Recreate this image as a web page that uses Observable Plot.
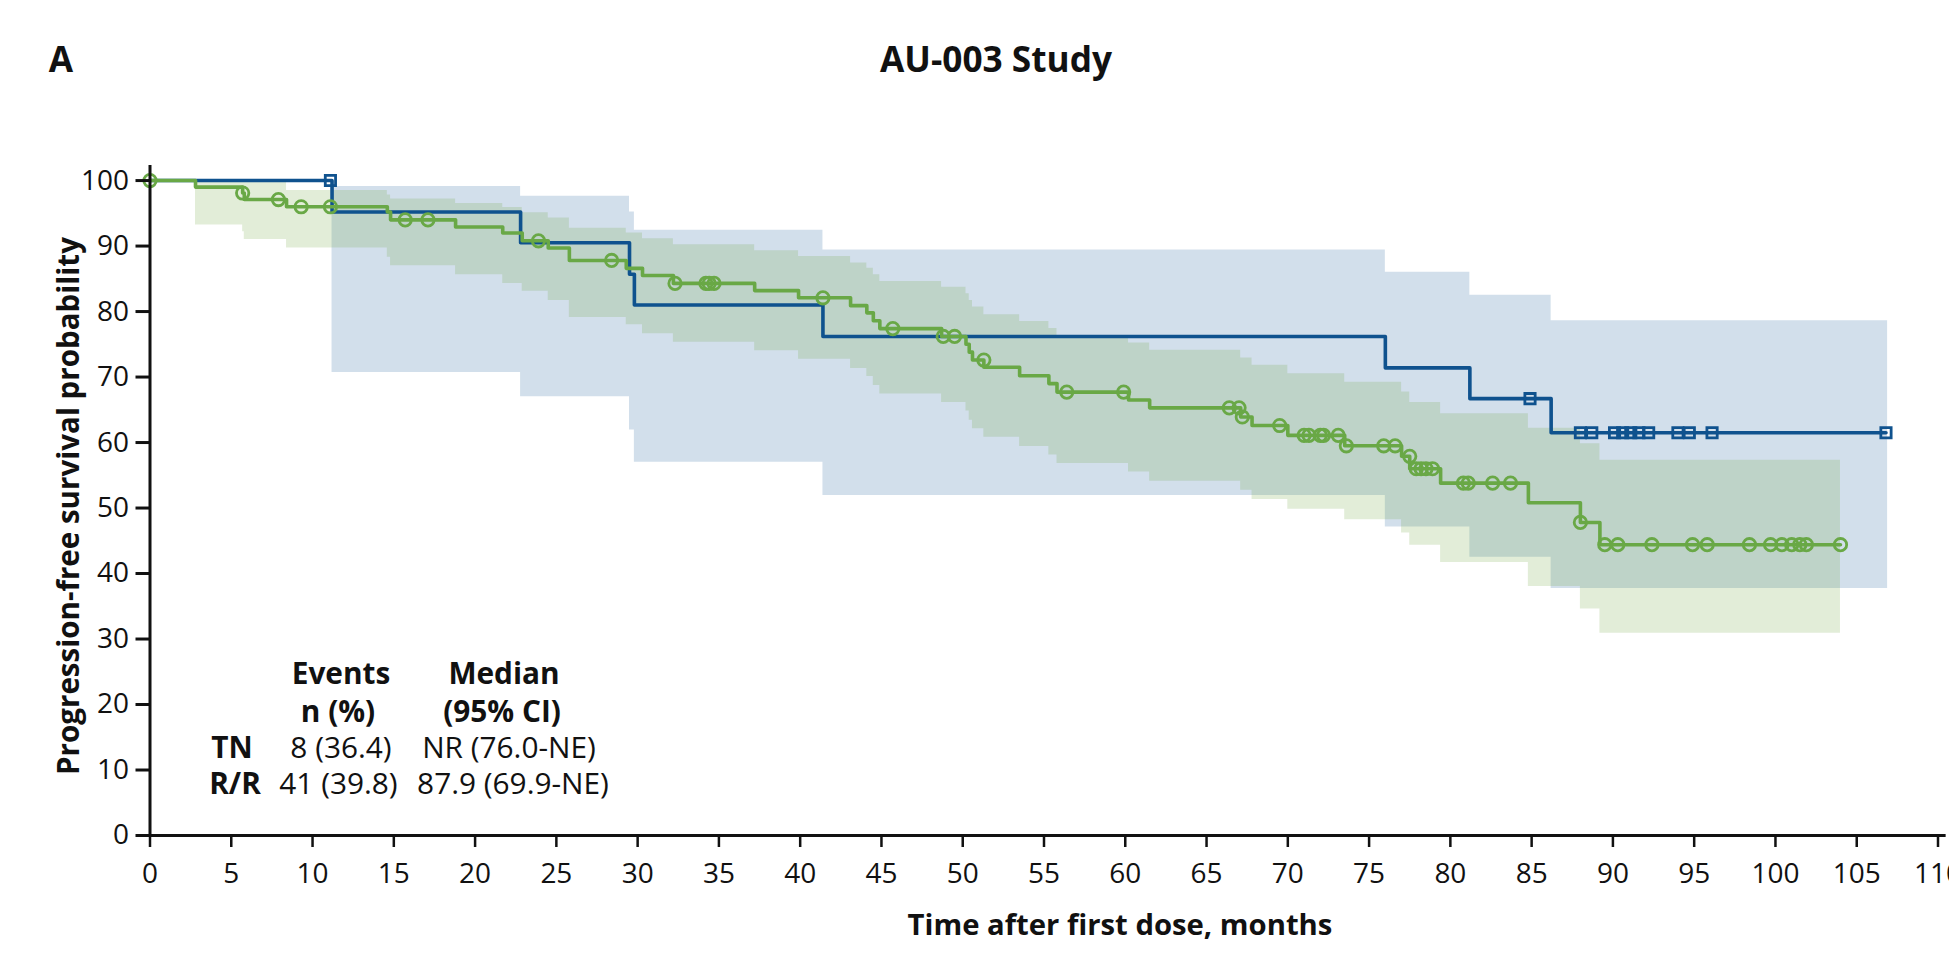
<!DOCTYPE html>
<html><head><meta charset="utf-8">
<script src="https://cdn.jsdelivr.net/npm/d3@7"></script>
<script src="https://cdn.jsdelivr.net/npm/@observablehq/plot@0.6"></script>
<style>
body{margin:0;background:#fff;font-family:"Open Sans",Lato,sans-serif;color:#111;}
#wrap{position:relative;width:1949px;height:973px;overflow:hidden;background:#fff;}
#wrap svg{position:absolute;left:0;top:0;}
.t{position:absolute;white-space:nowrap;transform:translate(-50%,-50%);line-height:0.9;}
.b{font-weight:bold;}
</style></head><body><div id="wrap"></div>
<script>
// ---- data ----
const xTicks = [0,5,10,15,20,25,30,35,40,45,50,55,60,65,70,75,80,85,90,95,100,105,110];
const yTicks = [0,10,20,30,40,50,60,70,80,90,100];

// TN (blue) Kaplan-Meier steps
const tnTime = [0, 11.2, 22.8, 29.5, 29.8, 41.4, 76.0, 81.2, 86.2, 106.8];
const tnSurv = [100, 95.2, 90.5, 85.7, 81.0, 76.2, 71.4, 66.7, 61.5, 61.5];
// TN censor marks
const tnCensTime = [11.1, 84.9, 88.0, 88.7, 90.1, 90.6, 91.1, 91.6, 92.2, 94.0, 94.7, 96.1, 106.8];
const tnCensSurv = [100, 66.7, 61.5, 61.5, 61.5, 61.5, 61.5, 61.5, 61.5, 61.5, 61.5, 61.5, 61.5];
// TN 95% CI band
const tnCiTime = [11.2, 22.8, 29.5, 29.8, 41.4, 76.0, 81.2, 86.2, 106.9];
const tnCiLow  = [70.7, 67.0, 61.9, 57.0, 51.9, 47.1, 42.5, 37.7, 37.7];
const tnCiHigh = [99.1, 97.6, 95.2, 92.4, 89.4, 86.0, 82.5, 78.6, 78.6];

// R/R (green) Kaplan-Meier steps
const rrTime = [0, 2.8, 5.7, 5.8, 8.4, 14.6, 14.8, 18.8, 21.7, 22.9, 24.5, 25.8, 29.3, 30.3, 32.2, 37.2, 39.9, 43.1, 44.1, 44.5, 44.9, 48.7, 50.2, 50.4, 50.6, 51.3, 53.5, 55.3, 55.8, 60.2, 61.5, 67.1, 67.8, 70.0, 73.5, 77.0, 77.5, 79.4, 84.8, 88.0, 89.2, 104.0];
const rrSurv = [100, 99.0, 98.1, 97.1, 96.0, 95.2, 94.0, 92.9, 92.0, 90.8, 89.7, 87.8, 86.6, 85.5, 84.3, 83.2, 82.1, 80.9, 79.8, 78.6, 77.4, 76.2, 75.0, 73.8, 72.6, 71.5, 70.2, 69.0, 67.7, 66.5, 65.3, 63.9, 62.6, 61.1, 59.5, 57.9, 56.0, 53.8, 50.8, 47.8, 44.4, 44.4];
// R/R censor marks
const rrCensTime = [0, 5.7, 7.9, 9.3, 11.1, 15.7, 17.1, 23.9, 28.4, 32.3, 34.2, 34.4, 34.7, 41.4, 45.7, 48.8, 49.5, 51.3, 56.4, 59.9, 66.4, 67.0, 67.2, 69.5, 71.0, 71.3, 72.0, 72.2, 73.1, 73.6, 75.9, 76.6, 77.5, 77.9, 78.2, 78.5, 78.9, 80.8, 81.1, 82.6, 83.7, 88.0, 89.5, 90.3, 92.4, 94.9, 95.8, 98.4, 99.7, 100.4, 101.0, 101.5, 101.9, 104.0];
const rrCensSurv = [100, 98.1, 97.1, 96.0, 96.0, 94.0, 94.0, 90.8, 87.8, 84.3, 84.3, 84.3, 84.3, 82.1, 77.4, 76.2, 76.2, 72.6, 67.7, 67.7, 65.3, 65.3, 63.9, 62.6, 61.1, 61.1, 61.1, 61.1, 61.1, 59.5, 59.5, 59.5, 57.9, 56.0, 56.0, 56.0, 56.0, 53.8, 53.8, 53.8, 53.8, 47.8, 44.4, 44.4, 44.4, 44.4, 44.4, 44.4, 44.4, 44.4, 44.4, 44.4, 44.4, 44.4];
// R/R 95% CI band
const rrCiTime = [2.8, 5.7, 5.8, 8.4, 14.6, 14.8, 18.8, 21.7, 22.9, 24.5, 25.8, 29.3, 30.3, 32.2, 37.2, 39.9, 43.1, 44.1, 44.5, 44.9, 48.7, 50.2, 50.4, 50.6, 51.3, 53.5, 55.3, 55.8, 60.2, 61.5, 67.1, 67.8, 70.0, 73.5, 77.0, 77.5, 79.4, 84.8, 88.0, 89.2, 104.0];
const rrCiLow  = [93.2, 92.2, 91.0, 89.7, 88.3, 87.0, 85.6, 84.3, 83.1, 81.7, 79.1, 78.0, 76.6, 75.3, 74.0, 72.7, 71.3, 70.1, 68.7, 67.4, 66.1, 64.8, 63.4, 62.1, 60.8, 59.4, 58.1, 56.8, 55.5, 54.1, 52.7, 51.3, 49.8, 48.2, 46.2, 44.3, 41.7, 38.0, 34.6, 30.9, 30.9];
const rrCiHigh = [99.9, 99.7, 99.7, 98.5, 97.8, 97.2, 96.5, 95.9, 95.1, 94.3, 92.7, 92.0, 91.1, 90.2, 89.3, 88.4, 87.4, 86.6, 85.6, 84.6, 83.7, 82.7, 81.7, 80.7, 79.5, 78.5, 77.4, 76.3, 75.2, 74.1, 72.9, 71.8, 70.5, 69.2, 67.7, 66.1, 64.4, 62.2, 59.8, 57.3, 57.3];

// annotation table
const tableHead1 = ["Events", "Median"];
const tableHead2 = ["n (%)", "(95% CI)"];
const groups = ["TN", "R/R"];
const eventsText = ["8 (36.4)", "41 (39.8)"];
const medianText = ["NR (76.0-NE)", "87.9 (69.9-NE)"];

// ---- text sizing helpers (fit to reference text widths) ----
const FONT = '"Open Sans"';
const ctx = document.createElement("canvas").getContext("2d");
function widthAt(txt, size, weight) { ctx.font = `${weight} ${size}px ${FONT}`; return ctx.measureText(txt).width; }
function fitSize(txt, target, weight) { return 100 * target / widthAt(txt, 100, weight); }
const median = a => { const s = [...a].sort((p, q) => p - q); return s[Math.floor(s.length / 2)]; };

const tickFont = fitSize("100", 48, "normal");

// ---- build tables ----
const zip = (xs, ys, kx, ky) => xs.map((v, i) => ({[kx]: v, [ky]: ys[i]}));
const tn = zip(tnTime, tnSurv, "t", "s");
const tnCens = zip(tnCensTime, tnCensSurv, "t", "s");
const tnCI = tnCiTime.map((t, i) => ({t, lo: tnCiLow[i], hi: tnCiHigh[i]}));
const rr = zip(rrTime, rrSurv, "t", "s");
const rrCens = zip(rrCensTime, rrCensSurv, "t", "s");
const rrCI = rrCiTime.map((t, i) => ({t, lo: rrCiLow[i], hi: rrCiHigh[i]}));

const blue = "#0f528e";
const green = "#69a846";

const chart = Plot.plot({
  width: 1949,
  height: 973,
  marginLeft: 149.5,
  marginRight: 11.5,
  marginTop: 165,
  marginBottom: 138,
  x: {domain: [0, 110]},
  y: {domain: [0, 102.3]},
  style: {fontFamily: FONT + ", sans-serif", fontSize: tickFont.toFixed(2) + "px", color: "#111", background: "transparent"},
  marks: [
    Plot.areaY(tnCI, {x: "t", y1: "lo", y2: "hi", curve: "step-after", fill: "#1f5f9a", fillOpacity: 0.2}),
    Plot.areaY(rrCI, {x: "t", y1: "lo", y2: "hi", curve: "step-after", fill: "#6ea53c", fillOpacity: 0.2}),
    Plot.line(tn, {x: "t", y: "s", curve: "step-after", stroke: blue, strokeWidth: 3.6}),
    Plot.dot(tnCens, {x: "t", y: "s", symbol: "square", r: 5.8, stroke: blue, strokeWidth: 2.8, fill: "none"}),
    Plot.line(rr, {x: "t", y: "s", curve: "step-after", stroke: green, strokeWidth: 3.6}),
    Plot.dot(rrCens, {x: "t", y: "s", symbol: "circle", r: 6.2, stroke: green, strokeWidth: 2.8, fill: "none"}),
    Plot.ruleX([0], {y1: 0, y2: 102.3, stroke: "#111", strokeWidth: 3}),
    Plot.ruleY([0], {x1: 0, x2: 110.5, stroke: "#111", strokeWidth: 3}),
    Plot.axisX({ticks: xTicks, tickSize: 12, tickPadding: 16, label: null, tickFormat: d => String(d), stroke: "#111", strokeWidth: 2.5}),
    Plot.axisY({ticks: yTicks, tickSize: 14, tickPadding: 7, label: null, tickFormat: d => String(d), stroke: "#111", strokeWidth: 3})
  ]
});

const wrap = document.getElementById("wrap");
wrap.appendChild(chart);

function addText(txt, x, y, cls, size, extra) {
  const d = document.createElement("div");
  d.className = "t " + (cls || "");
  d.textContent = txt;
  d.style.left = x + "px";
  d.style.top = y + "px";
  d.style.fontSize = size.toFixed(2) + "px";
  if (extra) Object.assign(d.style, extra);
  wrap.appendChild(d);
  return d;
}

const titleSize = fitSize("AU-003 Study", 232, "bold");
addText("A", 61, 59, "b", titleSize);
addText("AU-003 Study", 996, 59, "b", titleSize);
addText("Time after first dose, months", 1120, 924, "b", fitSize("Time after first dose, months", 425, "bold"));
addText("Progression-free survival probability", 68, 506, "b", fitSize("Progression-free survival probability", 538, "bold"),
  {transform: "translate(-50%,-50%) rotate(-90deg)"});

// table: one common size fitted to the reference widths
const tblSize = median([
  fitSize(tableHead1[0], 98, "bold"), fitSize(tableHead2[0], 70, "bold"),
  fitSize(tableHead1[1], 109, "bold"), fitSize(tableHead2[1], 124, "bold"),
  fitSize(groups[0], 41.5, "bold"), fitSize(groups[1], 51, "bold"),
  fitSize(eventsText[0], 107, "normal"), fitSize(eventsText[1], 117, "normal"),
  fitSize(medianText[0], 182, "normal"), fitSize(medianText[1], 204, "normal")
]);
addText(tableHead1[0], 341, 673, "b", tblSize);
addText(tableHead2[0], 338, 711, "b", tblSize);
addText(tableHead1[1], 504, 673, "b", tblSize);
addText(tableHead2[1], 502, 711, "b", tblSize);
const rowY = [747, 783];
const groupX = [232, 235];
const evX = [341, 338.5];
const medX = [509, 513];
groups.forEach((g, i) => {
  addText(g, groupX[i], rowY[i], "b", tblSize);
  addText(eventsText[i], evX[i], rowY[i], "", tblSize);
  addText(medianText[i], medX[i], rowY[i], "", tblSize);
});
</script>
</body></html>
